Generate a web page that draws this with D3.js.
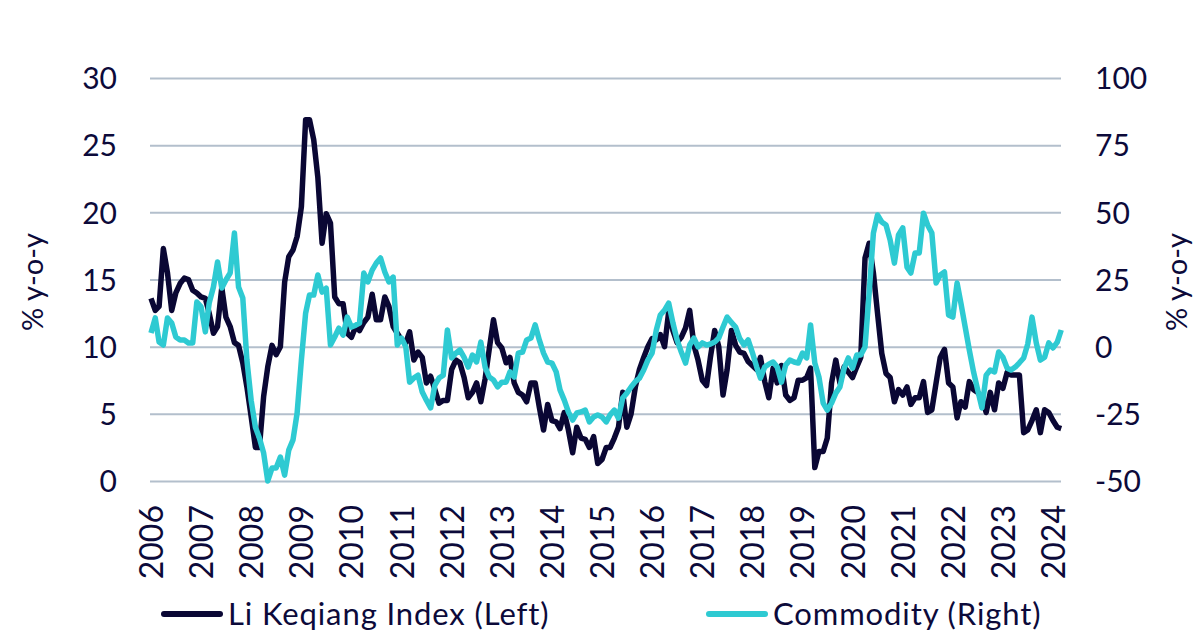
<!DOCTYPE html>
<html>
<head>
<meta charset="utf-8">
<script src="https://cdnjs.cloudflare.com/ajax/libs/d3/7.8.5/d3.min.js"></script>
<style>
    html, body { margin: 0; padding: 0; background: #fff; }
    svg text { font-family: Lato, "Open Sans", sans-serif; fill: #0c0a3a; }
</style>
</head>
<body>
<div id="chart"></div>
<script>
// monthly, Jan 2006 .. Mar 2024
const startYear = 2006;

const liKeqiang = [
    13.6, 12.7, 13.0, 17.3, 15.5, 12.7, 14.0, 14.7, 15.1, 15.0, 14.2, 14.0,
    13.7, 13.6, 12.5, 11.0, 11.5, 14.4, 12.2, 11.5, 10.3, 10.1, 8.8, 7.0,
    4.8, 2.5, 2.5, 6.3, 8.5, 10.1, 9.4, 10.0, 14.8, 16.7, 17.2, 18.2,
    20.4, 26.9, 26.9, 25.4, 22.6, 17.7, 19.9, 19.2, 13.7, 13.2, 13.2, 11.0,
    10.7, 11.5, 11.2, 11.8, 12.2, 13.9, 12.0, 12.0, 13.7, 13.0, 11.5, 11.0,
    10.5, 10.3, 11.1, 9.0, 9.6, 9.2, 7.3, 7.8, 6.8, 5.8, 6.0, 6.0,
    8.3, 9.0, 8.8, 7.7, 6.2, 6.6, 7.3, 5.9, 7.6, 9.8, 12.0, 10.3,
    9.9, 8.8, 9.2, 7.3, 6.6, 6.4, 5.9, 7.3, 7.3, 5.5, 3.8, 5.7,
    4.5, 4.4, 3.9, 5.1, 3.8, 2.1, 4.0, 3.2, 3.1, 2.5, 3.3, 1.3,
    1.6, 2.5, 2.5, 3.2, 4.0, 6.6, 4.0, 5.0, 7.0, 8.3, 9.2, 10.0,
    10.6, 10.5, 10.9, 10.0, 12.6, 11.2, 10.3, 10.7, 11.4, 12.7, 10.1, 9.0,
    7.5, 7.1, 9.2, 11.2, 10.0, 6.4, 8.3, 11.2, 10.1, 9.6, 9.5, 8.9,
    8.6, 8.3, 9.2, 7.4, 6.2, 8.4, 7.3, 8.6, 6.4, 6.0, 6.2, 7.5,
    7.5, 7.7, 8.4, 1.0, 2.2, 2.2, 3.2, 7.3, 9.0, 7.3, 8.5, 8.1,
    7.7, 8.5, 9.2, 16.6, 17.7, 15.5, 12.5, 9.5, 8.0, 7.7, 5.9, 6.8,
    6.4, 7.0, 5.7, 6.2, 6.2, 7.4, 5.1, 5.3, 7.3, 9.2, 9.8, 7.3,
    7.0, 4.7, 5.9, 5.5, 7.4, 6.8, 6.6, 6.2, 5.1, 6.6, 5.3, 7.3,
    6.9, 8.1, 7.9, 7.9, 7.9, 3.6, 3.8, 4.5, 5.3, 3.6, 5.3, 5.1,
    4.5, 4.0, 3.9
];

const commodity = [
    5.1, 10.7, 1.7, 0.6, 10.7, 8.8, 3.6, 2.5, 2.5, 1.4, 1.4, 16.6,
    14.8, 5.5, 16.2, 22.2, 31.5, 21.8, 24.8, 27.4, 42.3, 22.2, 18.1, -5.0,
    -20.0, -30.0, -34.0, -39.6, -50.0, -45.2, -45.2, -41.1, -47.8, -38.5, -34.7, -24.7,
    -5.0, 12.5, 19.2, 19.2, 26.7, 20.3, 21.8, 0.6, 3.6, 6.9, 4.3, 11.0,
    7.3, 8.0, 8.8, 27.4, 24.1, 28.5, 31.1, 33.0, 27.8, 24.1, 25.9, 0.6,
    3.2, -0.1, -13.2, -11.7, -10.6, -16.9, -19.9, -22.8, -14.3, -11.7, -10.6, 6.2,
    -4.2, -2.4, -1.2, -4.0, -7.6, -3.1, -5.7, 1.7, -7.6, -11.3, -12.4, -15.0,
    -13.2, -13.2, -9.4, -11.3, -2.4, -2.0, 2.5, 3.2, 8.1, 2.5, -2.4, -5.7,
    -6.1, -9.4, -16.1, -19.9, -24.3, -27.3, -24.7, -24.3, -23.6, -28.0, -26.2, -25.4,
    -26.2, -28.0, -25.4, -23.6, -26.6, -19.1, -17.3, -15.0, -13.0, -11.7, -8.7, -5.0,
    -2.4, 6.2, 11.8, 13.6, 16.2, 8.8, 2.5, -2.0, -6.1, 0.6, 3.2, -0.1,
    1.4, 0.6, 1.0, 1.7, 3.2, 7.3, 11.0, 9.0, 7.3, 3.0, 0.6, 2.5,
    -2.2, -7.5, -11.7, -7.6, -6.5, -5.7, -7.6, -13.2, -6.8, -5.0, -5.7, -6.1,
    -2.4, -4.2, 8.1, -6.1, -11.3, -21.0, -23.6, -21.0, -17.3, -15.0, -8.0, -4.2,
    -8.0, -3.1, -3.1, -0.1, 20.0, 42.3, 49.0, 46.4, 45.3, 39.7, 31.1, 41.6,
    44.2, 29.6, 27.4, 34.9, 34.9, 49.7, 45.3, 42.3, 23.7, 26.7, 27.8, 11.8,
    11.0, 23.7, 16.2, 7.3, -1.2, -9.4, -16.1, -22.8, -10.6, -8.7, -9.4, -2.0,
    -3.9, -8.0, -8.7, -7.6, -6.0, -4.2, 1.0, 11.0, 1.4, -5.0, -3.9, 1.4,
    -0.5, 1.7, 6.2
];

const leftTicks = [0, 5, 10, 15, 20, 25, 30];
const rightTicks = [-50, -25, 0, 25, 50, 75, 100];
const yearLabels = ['2006', '2007', '2008', '2009', '2010', '2011', '2012', '2013', '2014',
    '2015', '2016', '2017', '2018', '2019', '2020', '2021', '2022', '2023', '2024'];

const seriesNames = ['Li Keqiang Index (Left)', 'Commodity (Right)'];
const navy = '#0a0734';
const cyan = '#2ecad2';

const width = 1200, height = 643;
const plotLeft = 150, plotRight = 1061, plotTop = 78, plotBottom = 481;

const svg = d3.select('#chart')
    .append('svg')
    .attr('width', width)
    .attr('height', height);

const monthDate = function (i) { return d3.utcMonth.offset(new Date(Date.UTC(startYear, 0, 1)), i); };
const plainNumber = function (d) { return String(d); };

const x = d3.scaleUtc()
    .domain([new Date(Date.UTC(2006, 0, 1)), new Date(Date.UTC(2024, 0, 1))])
    .range([151, 1053]);

const yLeft = d3.scaleLinear().domain([0, 30]).range([plotBottom, plotTop]);
const yRight = d3.scaleLinear().domain([-50, 100]).range([plotBottom, plotTop]);

// gridlines + left labels
const gLeft = svg.append('g')
    .attr('transform', `translate(${plotLeft},0)`)
    .call(d3.axisLeft(yLeft)
        .tickValues(leftTicks)
        .tickFormat(plainNumber)
        .tickSize(-(plotRight - plotLeft))
        .tickPadding(33));
gLeft.select('.domain').remove();
gLeft.selectAll('.tick line')
    .attr('stroke', '#b3bfcc')
    .attr('stroke-width', 2);
gLeft.selectAll('.tick text')
    .attr('dy', '0.36em')
    .style('font-size', '30px');

// right labels
const gRight = svg.append('g')
    .attr('transform', `translate(${plotRight},0)`)
    .call(d3.axisRight(yRight)
        .tickValues(rightTicks)
        .tickFormat(plainNumber)
        .tickSize(0)
        .tickPadding(34));
gRight.select('.domain').remove();
gRight.selectAll('.tick text')
    .attr('dy', '0.36em')
    .style('font-size', '30px');

// year labels
const gX = svg.append('g')
    .attr('transform', `translate(0,${plotBottom})`)
    .call(d3.axisBottom(x)
        .tickValues(yearLabels.map(function (y) { return new Date(Date.UTC(+y, 0, 1)); }))
        .tickSize(0)
        .tickFormat(function (d, i) { return yearLabels[i]; }));
gX.select('.domain').remove();
gX.selectAll('.tick text')
    .attr('transform', 'rotate(-90)')
    .attr('x', -24)
    .attr('y', 0)
    .attr('dy', '0.36em')
    .style('text-anchor', 'end')
    .style('font-size', '32px');

// axis titles
svg.append('text')
    .attr('transform', 'translate(33,282) rotate(-90)')
    .attr('text-anchor', 'middle')
    .attr('dy', '0.36em')
    .style('font-size', '29px')
    .text('% y-o-y');

svg.append('text')
    .attr('transform', 'translate(1177,282) rotate(-90)')
    .attr('text-anchor', 'middle')
    .attr('dy', '0.36em')
    .style('font-size', '29px')
    .text('% y-o-y');

// lines
const lineLeft = d3.line()
    .x(function (d, i) { return x(monthDate(i)); })
    .y(function (d) { return yLeft(d); });

const lineRight = d3.line()
    .x(function (d, i) { return x(monthDate(i)); })
    .y(function (d) { return yRight(d); });

svg.append('path')
    .datum(liKeqiang)
    .attr('d', lineLeft)
    .attr('fill', 'none')
    .attr('stroke', navy)
    .attr('stroke-width', 5.5)
    .attr('stroke-linejoin', 'round');

svg.append('path')
    .datum(commodity)
    .attr('d', lineRight)
    .attr('fill', 'none')
    .attr('stroke', cyan)
    .attr('stroke-width', 5.5)
    .attr('stroke-linejoin', 'round');

// legend
const legend = svg.append('g')
    .selectAll('g')
    .data([{name: seriesNames[0], color: navy, x: 164}, {name: seriesNames[1], color: cyan, x: 709}])
    .enter()
    .append('g')
    .attr('transform', function (d) { return `translate(${d.x},614)`; });

legend.append('line')
    .attr('x1', 0)
    .attr('x2', 56)
    .attr('stroke', function (d) { return d.color; })
    .attr('stroke-width', 6)
    .attr('stroke-linecap', 'round');

legend.append('text')
    .attr('x', 64)
    .attr('dy', '0.36em')
    .style('font-size', '31px')
    .style('letter-spacing', '0.9px')
    .text(function (d) { return d.name; });
</script>
</body>
</html>
